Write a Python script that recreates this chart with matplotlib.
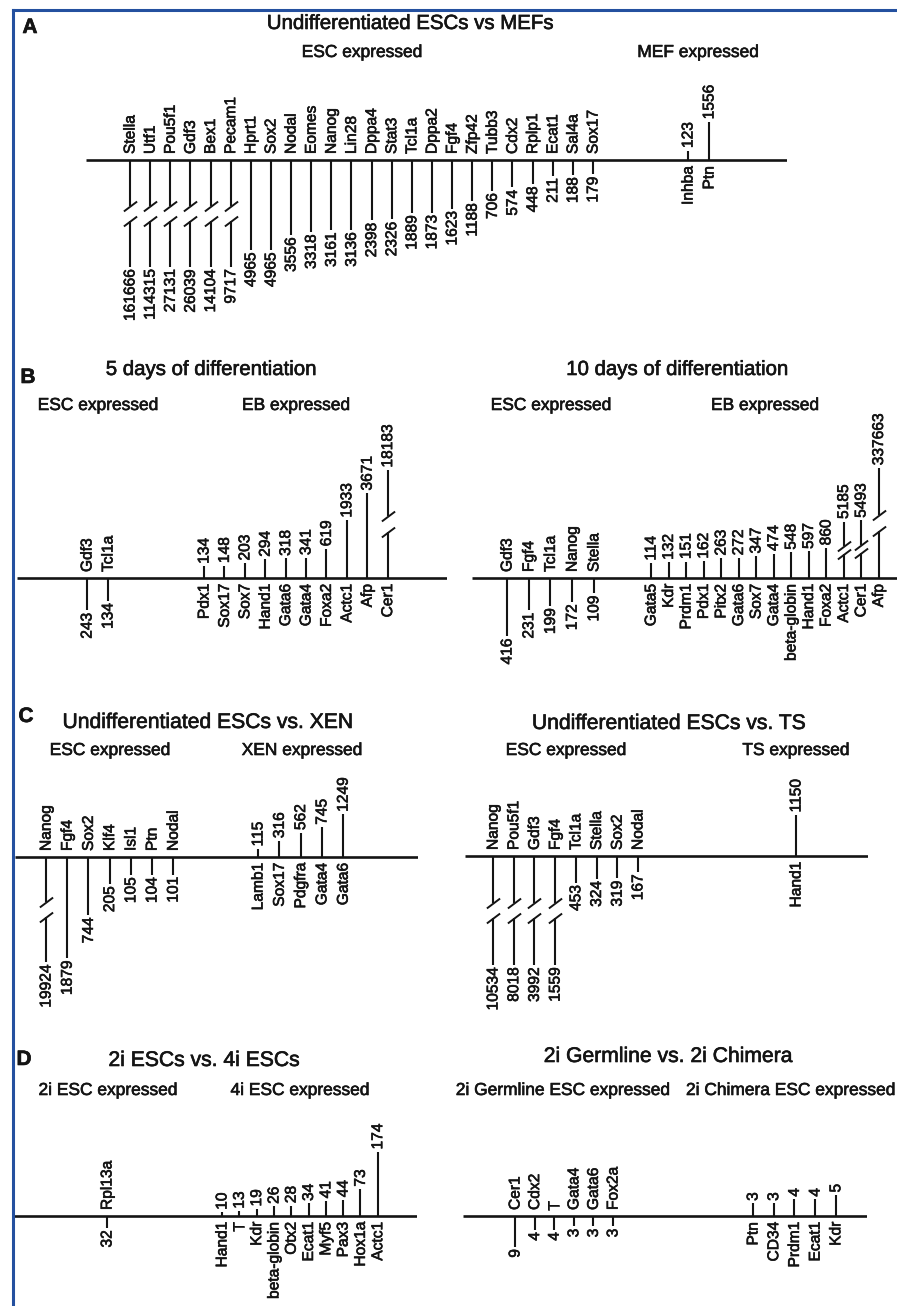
import numpy as np
import matplotlib
matplotlib.use("Agg")
import matplotlib.pyplot as plt
from matplotlib.lines import Line2D
import matplotlib.patheffects as pe

plt.rcParams['font.family'] = ['Liberation Sans', 'DejaVu Sans']

W, H, DPI = 897, 1306, 100
INK = '#141414'
PE = [pe.withStroke(linewidth=0.45, foreground=INK)]

# ---------------- data ----------------
a_esc_genes = ['Stella', 'Utf1', 'Pou5f1', 'Gdf3', 'Bex1', 'Pecam1', 'Hprt1', 'Sox2', 'Nodal',
               'Eomes', 'Nanog', 'Lin28', 'Dppa4', 'Stat3', 'Tcl1a', 'Dppa2', 'Fgf4', 'Zfp42',
               'Tubb3', 'Cdx2', 'Rplp1', 'Ecat1', 'Sal4a', 'Sox17']
a_esc_values = [161666, 114315, 27131, 26039, 14104, 9717, 4965, 4965, 3556, 3318, 3161, 3136,
                2398, 2326, 1889, 1873, 1623, 1188, 706, 574, 448, 211, 188, 179]
a_mef_genes = ['Inhba', 'Ptn']
a_mef_values = [123, 1556]

b5_esc_genes = ['Gdf3', 'Tcl1a']
b5_esc_values = [243, 134]
b5_eb_genes = ['Pdx1', 'Sox17', 'Sox7', 'Hand1', 'Gata6', 'Gata4', 'Foxa2', 'Actc1', 'Afp', 'Cer1']
b5_eb_values = [134, 148, 203, 294, 318, 341, 619, 1933, 3671, 18183]

b10_esc_genes = ['Gdf3', 'Fgf4', 'Tcl1a', 'Nanog', 'Stella']
b10_esc_values = [416, 231, 199, 172, 109]
b10_eb_genes = ['Gata5', 'Kdr', 'Prdm1', 'Pdx1', 'Pitx2', 'Gata6', 'Sox7', 'Gata4', 'beta-globin',
                'Hand1', 'Foxa2', 'Actc1', 'Cer1', 'Afp']
b10_eb_values = [114, 132, 151, 162, 263, 272, 347, 474, 548, 597, 860, 5185, 5493, 337663]

cx_esc_genes = ['Nanog', 'Fgf4', 'Sox2', 'Klf4', 'Isl1', 'Ptn', 'Nodal']
cx_esc_values = [19924, 1879, 744, 205, 105, 104, 101]
cx_xen_genes = ['Lamb1', 'Sox17', 'Pdgfra', 'Gata4', 'Gata6']
cx_xen_values = [115, 316, 562, 745, 1249]

ct_esc_genes = ['Nanog', 'Pou5f1', 'Gdf3', 'Fgf4', 'Tcl1a', 'Stella', 'Sox2', 'Nodal']
ct_esc_values = [10534, 8018, 3992, 1559, 453, 324, 319, 167]
ct_ts_genes = ['Hand1']
ct_ts_values = [1150]

d2_genes = ['Rpl13a']
d2_values = [32]
d4_genes = ['Hand1', 'T', 'Kdr', 'beta-globin', 'Otx2', 'Ecat1', 'Myf5', 'Pax3', 'Hox1a', 'Actc1']
d4_values = [10, 13, 19, 26, 28, 34, 41, 44, 73, 174]

dg_genes = ['Cer1', 'Cdx2', 'T', 'Gata4', 'Gata6', 'Fox2a']
dg_values = [9, 4, 4, 3, 3, 3]
dc_genes = ['Ptn', 'CD34', 'Prdm1', 'Ecat1', 'Kdr']
dc_values = [3, 3, 4, 4, 5]

# ---------------- figure ----------------
fig = plt.figure(figsize=(W / DPI, H / DPI), dpi=DPI)
fig.patch.set_facecolor('white')


def ftext(x, y, s, **kw):
    kw.setdefault('color', INK)
    kw.setdefault('va', 'baseline')
    kw.setdefault('ha', 'center')
    fig.text(x / W, 1 - y / H, s, path_effects=PE, **kw)


def make_scale(pu, cu, pd, cd):
    def fwd(y):
        y = np.asarray(y, dtype=float)
        return np.where(y >= 0, cu * np.abs(y) ** pu, -cd * np.abs(y) ** pd)

    def inv(t):
        t = np.asarray(t, dtype=float)
        return np.where(t >= 0, (np.abs(t) / cu) ** (1.0 / pu), -(np.abs(t) / cd) ** (1.0 / pd))
    return fwd, inv


slash = [(-1.0, -0.75), (1.0, 0.75)]


def panel(down_genes, down_vals, up_genes, up_vals, span, axis_y, down_x, up_x,
          up_sc, down_sc, thr=np.inf, lo=0, hi=np.inf, ext=160):
    left, right = span
    ax = fig.add_axes([left / W, 1 - (axis_y + ext) / H, (right - left) / W, 2 * ext / H])
    fwd, inv = make_scale(up_sc[0], up_sc[1], down_sc[0], down_sc[1])
    ax.set_yscale('function', functions=(fwd, inv))
    ax.set_ylim(float(inv(-ext)), float(inv(ext)))
    ax.set_xlim(left, right)
    ax.axis('off')
    ax.axhline(0, color=INK, lw=1.9, solid_capstyle='butt')

    groups = [(down_genes, down_vals, down_x, -1), (up_genes, up_vals, up_x, 1)]
    for genes, vals, (x0, dx), sgn in groups:
        xs = x0 + dx * np.arange(len(genes))
        for x, g, v in zip(xs, genes, vals):
            broken = v > thr
            disp = float(np.clip(v, lo, hi)) if broken else float(v)
            yend = sgn * disp
            if broken:
                tend = float(fwd(yend))
                y1 = float(inv(0.43 * tend))
                y2 = float(inv(0.57 * tend))
                ax.vlines(x, 0, y1, color=INK, lw=1.5)
                ax.vlines(x, y2, yend, color=INK, lw=1.5)
                ax.plot([x, x], [y1, y2], ls='none', marker=slash, markersize=9.5,
                        markeredgewidth=1.4, markeredgecolor=INK, markerfacecolor='none')
            else:
                ax.vlines(x, 0, yend, color=INK, lw=1.5)
            # gene name on the opposite side of the axis
            ax.annotate(g, (x, 0), xytext=(0, -sgn * 4.3), textcoords='offset points',
                        rotation=90, ha='center', va='bottom' if sgn < 0 else 'top',
                        fontsize=11.2, color=INK, annotation_clip=False, path_effects=PE)
            # value at the end of the stem
            ax.annotate(str(v), (x, yend), xytext=(0, sgn * 1.8), textcoords='offset points',
                        rotation=90, ha='center', va='top' if sgn < 0 else 'bottom',
                        fontsize=11.2, color=INK, annotation_clip=False, path_effects=PE)
    return ax


# Panel A
panel(a_esc_genes, a_esc_values, a_mef_genes, a_mef_values, (86, 787), 160,
      (130, 20.13), (688, 21), up_sc=(0.55, 0.67), down_sc=(0.55, 0.835),
      thr=5000, lo=6800, hi=6800)
# Panel B
panel(b5_esc_genes, b5_esc_values, b5_eb_genes, b5_eb_values, (17, 447), 578,
      (87, 21), (204, 20.4), up_sc=(0.6, 0.617), down_sc=(0.6, 1.2),
      thr=5000, lo=5470, hi=5470)
panel(b10_esc_genes, b10_esc_values, b10_eb_genes, b10_eb_values, (472, 897), 578,
      (507, 21.7), (651, 17.5), up_sc=(0.35, 2.83), down_sc=(1.0, 0.14),
      thr=1000, lo=0, hi=35000)
# Panel C
panel(cx_esc_genes, cx_esc_values, cx_xen_genes, cx_xen_values, (15, 418), 857,
      (46, 21.2), (258, 21.3), up_sc=(0.7, 0.29), down_sc=(0.6, 1.1),
      thr=5000, lo=2000, hi=2000)
panel(ct_esc_genes, ct_esc_values, ct_ts_genes, ct_ts_values, (465, 868), 856,
      (493, 20.7), (796, 21), up_sc=(0.5, 1.21), down_sc=(0.5, 1.25),
      thr=1500, lo=7600, hi=7600)
# Panel D
panel(d2_genes, d2_values, d4_genes, d4_values, (13, 417), 1216,
      (107, 20), (222, 17.3), up_sc=(1.0, 0.368), down_sc=(1.0, 0.368))
panel(dg_genes, dg_values, dc_genes, dc_values, (463, 867), 1216,
      (515, 19.6), (753, 20.7), up_sc=(1.0, 4.2), down_sc=(1.0, 3.4))

# ---------------- headers ----------------
LET = dict(fontsize=15, fontweight='bold')
TIT_AB = dict(fontsize=14.7)
TIT_CD = dict(fontsize=15.2)
SUB = dict(fontsize=12.5)

ftext(30, 33, 'A', **LET)
ftext(410, 29, 'Undifferentiated ESCs vs MEFs', **TIT_AB)
ftext(362, 57, 'ESC expressed', **SUB)
ftext(698, 57, 'MEF expressed', **SUB)

ftext(28, 383, 'B', **LET)
ftext(211, 375, '5 days of differentiation', **TIT_AB)
ftext(677, 375, '10 days of differentiation', **TIT_AB)
ftext(98, 410, 'ESC expressed', **SUB)
ftext(296, 410, 'EB expressed', **SUB)
ftext(551, 410, 'ESC expressed', **SUB)
ftext(765, 410, 'EB expressed', **SUB)

ftext(26, 722, 'C', **LET)
ftext(208, 728, 'Undifferentiated ESCs vs. XEN', **TIT_CD)
ftext(669, 729, 'Undifferentiated ESCs vs. TS', **TIT_CD)
ftext(110, 755, 'ESC expressed', **SUB)
ftext(302, 755, 'XEN expressed', **SUB)
ftext(566, 755, 'ESC expressed', **SUB)
ftext(796, 755, 'TS expressed', **SUB)

ftext(24, 1065, 'D', **LET)
ftext(204, 1066, '2i ESCs vs. 4i ESCs', **TIT_CD)
ftext(668, 1062, '2i Germline vs. 2i Chimera', **TIT_CD)
ftext(108, 1095, '2i ESC expressed', **SUB)
ftext(300, 1095, '4i ESC expressed', **SUB)
ftext(563, 1095, '2i Germline ESC expressed', **SUB)
ftext(686, 1095, '2i Chimera ESC expressed', ha='left', **SUB)

# ---------------- frame ----------------
BLUE = '#24509f'
fig.add_artist(Line2D([13 / W, 13 / W], [1 - 10 / H, 0], transform=fig.transFigure,
                      color=BLUE, lw=2.2))
fig.add_artist(Line2D([13 / W, 1], [1 - 10 / H, 1 - 10 / H], transform=fig.transFigure,
                      color=BLUE, lw=2.2))

fig.savefig('out.png', dpi=DPI, facecolor='white')
